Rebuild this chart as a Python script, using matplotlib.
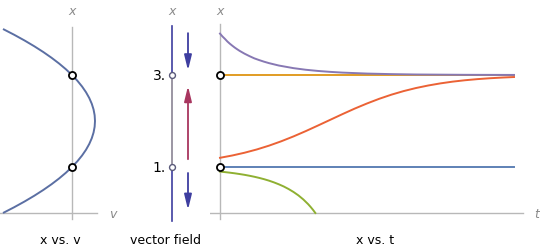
import matplotlib
matplotlib.use("Agg")
import matplotlib.pyplot as plt

# ---------------- data ----------------
# left panel: v = x' as a function of x
parab_x = [0, 0.125, 0.25, 0.375, 0.5, 0.625, 0.75, 0.875, 1, 1.125, 1.25, 1.375, 1.5, 1.625,
           1.75, 1.875, 2, 2.125, 2.25, 2.375, 2.5, 2.625, 2.75, 2.875, 3, 3.125, 3.25,
           3.375, 3.5, 3.625, 3.75, 3.875, 4]
parab_v = [-3, -2.515625, -2.0625, -1.640625, -1.25, -0.890625, -0.5625, -0.265625, 0,
           0.234375, 0.4375, 0.609375, 0.75, 0.859375, 0.9375, 0.984375, 1, 0.984375,
           0.9375, 0.859375, 0.75, 0.609375, 0.4375, 0.234375, 0, -0.265625, -0.5625,
           -0.890625, -1.25, -1.640625, -2.0625, -2.515625, -3]
fixed_points = [1, 3]
fixed_labels = ["1.", "3."]

# vector field arrows: (start x, end x)
arrow_down_top = (3.91, 3.1)
arrow_up = (1.17, 2.76)
arrow_down_bot = (0.87, 0.07)

# right panel: solutions x(t)
t_top = [0, 0.025, 0.05, 0.075, 0.1, 0.125, 0.15, 0.175, 0.2, 0.25, 0.3, 0.35, 0.4, 0.45,
         0.5, 0.6, 0.75, 0.875, 1, 1.125, 1.25, 1.5, 1.75, 2, 2.5, 3]
x_top = [3.9, 3.838, 3.786, 3.729, 3.681, 3.638, 3.597, 3.560, 3.525, 3.464, 3.411, 3.362,
         3.324, 3.289, 3.258, 3.206, 3.149, 3.114, 3.088, 3.068, 3.052, 3.031, 3.019, 3.011,
         3.004, 3.0015]

t_mid = [0, 0.125, 0.25, 0.375, 0.5, 0.625, 0.75, 0.875, 1, 1.125, 1.25, 1.375, 1.5, 1.625,
         1.75, 1.875, 2, 2.125, 2.25, 2.375, 2.5, 2.625, 2.75, 2.875, 3]
x_mid = [1.2, 1.250, 1.310, 1.381, 1.464, 1.559, 1.665, 1.780, 1.902, 2.026, 2.150, 2.270,
         2.381, 2.483, 2.573, 2.651, 2.717, 2.772, 2.818, 2.856, 2.886, 2.910, 2.929, 2.944,
         2.956]

t_low = [0, 0.05, 0.1, 0.15, 0.2, 0.25, 0.3, 0.35, 0.4, 0.45, 0.5, 0.55, 0.6, 0.65, 0.7,
         0.75, 0.8, 0.85, 0.9, 0.925, 0.95, 0.973]
x_low = [0.9, 0.889, 0.8765, 0.863, 0.847, 0.830, 0.810, 0.788, 0.763, 0.735, 0.703, 0.666,
         0.624, 0.577, 0.521, 0.457, 0.383, 0.295, 0.191, 0.131, 0.066, 0.0]

t_const = [0, 3]
x_const3 = [3, 3]
x_const1 = [1, 1]

# ---------------- styling ----------------
AX = "#b8b8b8"
LBL = "#8a8a8a"
C_PAR = "#5b6fa3"
C_BLUE = "#5E81B5"
C_ORANGE = "#E19C24"
C_GREEN = "#8FB032"
C_RED = "#EB6235"
C_PURPLE = "#8778B3"
C_ARR_B = "#3e3ea0"
C_ARR_R = "#a8365f"
LW = 1.4

W, H = 540, 251
fig = plt.figure(figsize=(W / 100, H / 100), dpi=100)

PX_PER_X = 46.0
Y0 = 214.0  # pixel row for x = 0


def ylims():
    return ((Y0 - H) / PX_PER_X, Y0 / PX_PER_X)


def make_ax(px0, px1, origin_px, unit_px):
    ax = fig.add_axes([px0 / W, 0, (px1 - px0) / W, 1])
    ax.set_xlim((px0 - origin_px) / unit_px, (px1 - origin_px) / unit_px)
    ax.set_ylim(*ylims())
    ax.axis("off")
    return ax


def ypx(p):
    return (Y0 - p) / PX_PER_X


# ----- left panel -----
axL = make_ax(0, 130, 72, 23.0)
def vx(p):
    return (p - 72) / 23.0
axL.plot([vx(0), vx(97)], [0, 0], color=AX, lw=1, zorder=1)
axL.plot([0, 0], [ypx(28), ypx(220)], color=AX, lw=1, zorder=1)
axL.plot(parab_v, parab_x, color=C_PAR, lw=LW, zorder=2, solid_capstyle="butt")
axL.scatter([0] * len(fixed_points), fixed_points, s=26, facecolor="white",
            edgecolor="black", linewidth=1.3, zorder=3)
axL.text(0, ypx(11), "x", color=LBL, style="italic", fontsize=9, ha="center", va="center")
axL.text(vx(113), ypx(215), "v", color=LBL, style="italic", fontsize=9, ha="center", va="center")
axL.text(vx(60), ypx(241), "x vs. v", color="black", fontsize=9, ha="center", va="center")

# ----- middle panel -----
axM = make_ax(130, 210, 172, 40.0)
axM.plot([0, 0], [ypx(27), 3], color=C_ARR_B, lw=1.2, zorder=1)
axM.plot([0, 0], [3, 1], color="#8a8494", lw=1.2, zorder=1)
axM.plot([0, 0], [1, ypx(222)], color=C_ARR_B, lw=1.2, zorder=1)
axM.scatter([0] * len(fixed_points), fixed_points, s=18, facecolor="white",
            edgecolor="#5a5a7a", linewidth=1.0, zorder=3)
for fp, lab in zip(fixed_points, fixed_labels):
    axM.text(-0.15, fp, lab, fontsize=10, ha="right", va="center", color="black")
ax_x = 0.4
for (a, b), col in [(arrow_down_top, C_ARR_B), (arrow_up, C_ARR_R), (arrow_down_bot, C_ARR_B)]:
    axM.annotate("", xy=(ax_x, b), xytext=(ax_x, a),
                 arrowprops=dict(arrowstyle="-|>,head_length=0.9,head_width=0.22",
                                 color=col, lw=1.3, shrinkA=0, shrinkB=0))
axM.text(0, ypx(11), "x", color=LBL, style="italic", fontsize=9, ha="center", va="center")
axM.text((165 - 172) / 40.0, ypx(241), "vector field", color="black", fontsize=9,
         ha="center", va="center")

# ----- right panel -----
axR = make_ax(210, 540, 220, 98.0)
def tx(p):
    return (p - 220) / 98.0
axR.plot([tx(210), tx(523)], [0, 0], color=AX, lw=1, zorder=1)
axR.plot([0, 0], [ypx(25), ypx(220)], color=AX, lw=1, zorder=1)
axR.plot(t_const, x_const1, color=C_BLUE, lw=LW, zorder=2)
axR.plot(t_const, x_const3, color=C_ORANGE, lw=LW, zorder=2)
axR.plot(t_low, x_low, color=C_GREEN, lw=LW, zorder=2)
axR.plot(t_mid, x_mid, color=C_RED, lw=LW, zorder=2)
axR.plot(t_top, x_top, color=C_PURPLE, lw=LW, zorder=2)
axR.scatter([0] * len(fixed_points), fixed_points, s=26, facecolor="white",
            edgecolor="black", linewidth=1.3, zorder=3)
axR.text(0, ypx(11), "x", color=LBL, style="italic", fontsize=9, ha="center", va="center")
axR.text(tx(537), ypx(215), "t", color=LBL, style="italic", fontsize=9, ha="center", va="center")
axR.text(tx(375), ypx(241), "x vs. t", color="black", fontsize=9, ha="center", va="center")

fig.savefig("out.png", dpi=100)
